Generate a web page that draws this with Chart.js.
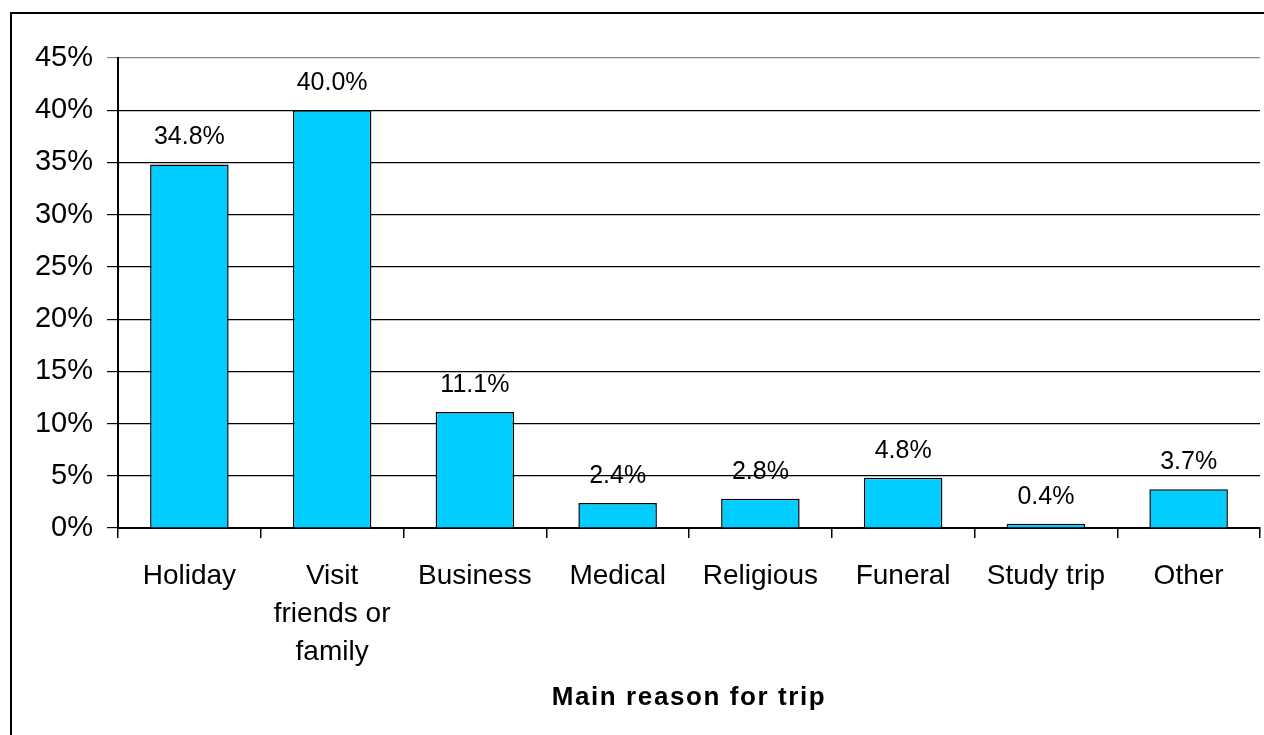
<!DOCTYPE html>
<html>
<head>
<meta charset="utf-8">
<script src="https://cdn.jsdelivr.net/npm/chart.js@4/dist/chart.umd.min.js"></script>
<style>
  html, body { margin: 0; padding: 0; background: #fff; }
  canvas { display: block; }
</style>
</head>
<body>
<canvas id="trip" width="1264" height="735"></canvas>
<script>
const categories = ["Holiday", ["Visit", "friends or", "family"], "Business", "Medical", "Religious", "Funeral", "Study trip", "Other"];
const shares = [34.8, 40.0, 11.1, 2.4, 2.8, 4.8, 0.4, 3.7];
const yTicks = [0, 5, 10, 15, 20, 25, 30, 35, 40, 45];
const xTitle = "Main reason for trip";

const FONT = "'Liberation Sans', Arial, sans-serif";

// frame round the whole chart, value labels over the bars, and the x title
const extras = {
  id: "extras",
  beforeDraw(chart) {
    const ctx = chart.ctx;
    ctx.save();
    ctx.fillStyle = "#fff";
    ctx.fillRect(0, 0, chart.width, chart.height);
    ctx.strokeStyle = "#000";
    ctx.lineWidth = 2;
    ctx.strokeRect(11, 13, 1400, 900);
    ctx.restore();
  },
  afterDatasetsDraw(chart) {
    const ctx = chart.ctx;
    const meta = chart.getDatasetMeta(0);
    ctx.save();
    ctx.font = "25px " + FONT;
    ctx.fillStyle = "#000";
    ctx.textAlign = "center";
    ctx.textBaseline = "middle";
    meta.data.forEach((bar, i) => {
      ctx.fillText(shares[i].toFixed(1) + "%", bar.x, bar.y - 27);
    });
    ctx.restore();
  },
  afterDraw(chart) {
    const ctx = chart.ctx;
    const area = chart.chartArea;
    ctx.save();
    ctx.font = "bold 26px " + FONT;
    ctx.letterSpacing = "1.6px";
    ctx.fillStyle = "#000";
    ctx.textAlign = "center";
    ctx.textBaseline = "middle";
    ctx.fillText(xTitle, (area.left + area.right) / 2, 698);
    ctx.restore();
  }
};

new Chart(document.getElementById("trip").getContext("2d"), {
  type: "bar",
  data: {
    labels: categories,
    datasets: [
      {
        data: shares,
        backgroundColor: "#00CCFF",
        borderColor: "#000",
        borderWidth: 1.5,
        categoryPercentage: 1,
        barPercentage: 0.55,
      },
    ],
  },
  options: {
    responsive: false,
    animation: false,
    layout: { padding: { top: 58, right: 4, left: 0, bottom: 0 } },
    plugins: {
      legend: { display: false },
      tooltip: { enabled: false },
    },
    scales: {
      x: {
        afterFit: (s) => { s.height = 207; },
        grid: { offset: true, drawOnChartArea: false, color: "#000", tickLength: 10, lineWidth: 1.5 },
        border: { color: "#000", width: 2 },
        ticks: {
          color: "#000",
          padding: 19,
          maxRotation: 0,
          autoSkip: false,
          font: { family: FONT, size: 28, lineHeight: 1.36 },
        },
      },
      y: {
        min: 0,
        max: 45,
        afterFit: (s) => { s.width = 118; },
        afterBuildTicks: (s) => { s.ticks = yTicks.map((v) => ({ value: v })); },
        grid: {
          color: (c) => (c.tick && c.tick.value === 45 ? "#888" : "#000"),
          lineWidth: 1.2,
          tickLength: 11,
        },
        border: { color: "#000", width: 2 },
        ticks: {
          color: "#000",
          padding: 14,
          font: { family: FONT, size: 29 },
          callback: (v) => v + "%",
        },
      },
    },
  },
  plugins: [extras],
});
</script>
</body>
</html>
